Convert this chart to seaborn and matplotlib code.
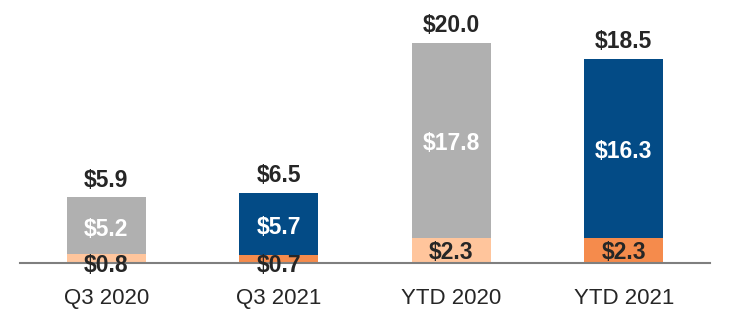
import matplotlib
matplotlib.use("Agg")
import matplotlib.pyplot as plt
import seaborn as sns
import pandas as pd

periods = ["Q3 2020", "Q3 2021", "YTD 2020", "YTD 2021"]
lower_vals = [0.8, 0.7, 2.3, 2.3]
upper_vals = [5.2, 5.7, 17.8, 16.3]
totals = [5.9, 6.5, 20.0, 18.5]
upper_colors = ["#B0B0B0", "#034B86", "#B0B0B0", "#034B86"]
lower_colors = ["#FFC59C", "#F58B4C", "#FFC59C", "#F58B4C"]

sns.set_theme(style="white")
plt.rcParams["font.family"] = ["Liberation Sans", "DejaVu Sans"]

df = pd.DataFrame({"period": periods, "lower": lower_vals, "upper": upper_vals,
                   "total": [l + u for l, u in zip(lower_vals, upper_vals)]})

fig = plt.figure(figsize=(7.3, 3.22), dpi=100)
ax = fig.add_axes([20 / 730, 1 - 263 / 322, 690 / 730, 263 / 322])

sns.barplot(data=df, x="period", y="total", hue="period", palette=upper_colors,
            width=0.46, legend=False, ax=ax, saturation=1, linewidth=0)
sns.barplot(data=df, x="period", y="lower", hue="period", palette=lower_colors,
            width=0.46, legend=False, ax=ax, saturation=1, linewidth=0)

ax.set_xlim(-0.5, 3.5)
ax.set_ylim(0, 24.0)
for s in ["top", "right", "left"]:
    ax.spines[s].set_visible(False)
ax.spines["bottom"].set_color("#7F7F7F")
ax.spines["bottom"].set_linewidth(1.5)
ax.set_yticks([])
ax.set_xlabel("")
ax.set_ylabel("")
ax.tick_params(axis="x", length=0, pad=18, labelsize=16, labelcolor="#262626")

fs = 16.5
for i in range(len(periods)):
    lo, up, tot = lower_vals[i], upper_vals[i], totals[i]
    ax.text(i, lo + up / 2 - 0.3, f"${up:.1f}", ha="center", va="center",
            color="white", fontsize=fs, fontweight="bold")
    ly = lo / 2 if lo > 1.5 else -0.05
    ax.text(i, ly - 0.15, f"${lo:.1f}", ha="center", va="center",
            color="#262626", fontsize=fs, fontweight="bold")
    ax.text(i, lo + up + 1.8, f"${tot:.1f}", ha="center", va="center_baseline",
            color="#262626", fontsize=fs, fontweight="bold")

fig.savefig("out.png", dpi=100)
